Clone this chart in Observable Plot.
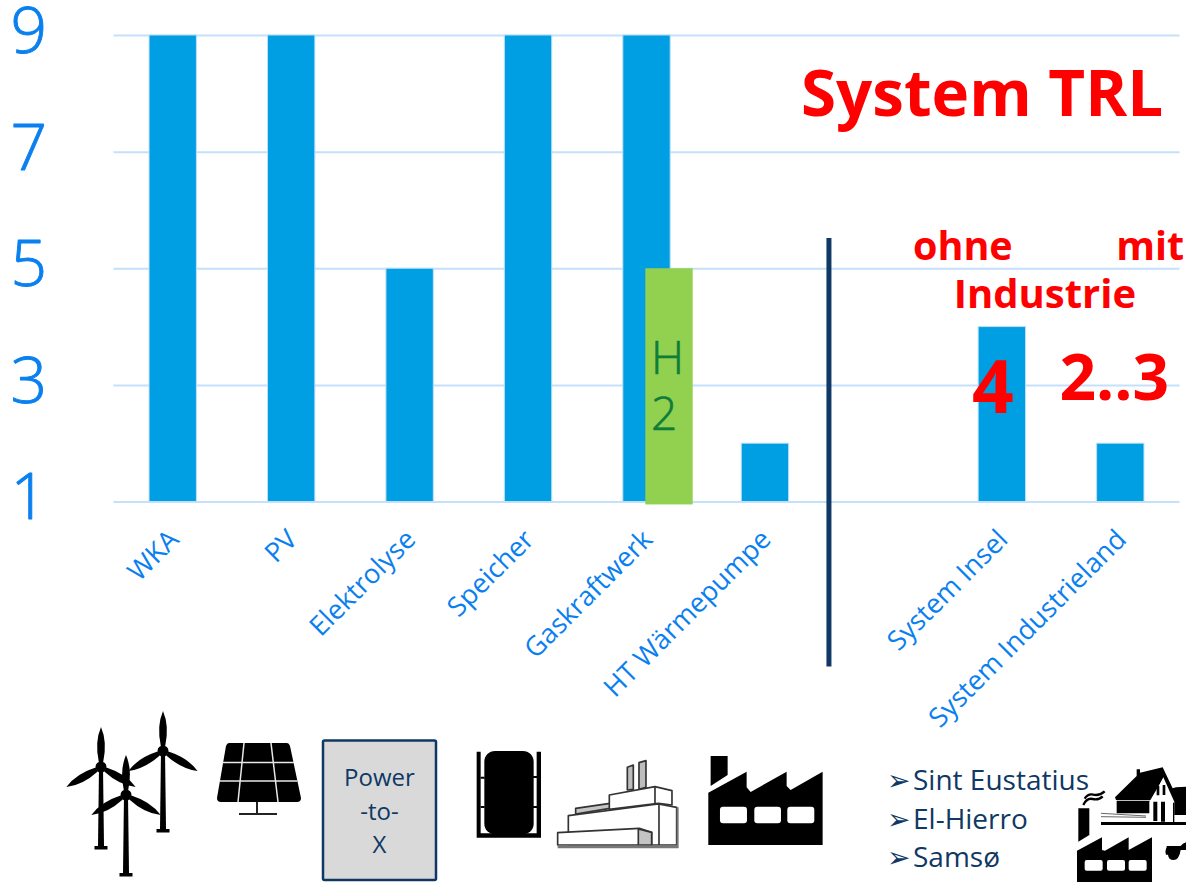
<!DOCTYPE html>
<html lang="de">
<head>
<meta charset="utf-8">
<title>System TRL</title>
<script src="https://cdn.jsdelivr.net/npm/d3@7"></script>
<script src="https://cdn.jsdelivr.net/npm/@observablehq/plot@0.6"></script>
<style>
  html, body { margin: 0; padding: 0; background: #fff; }
  svg { display: block; }
</style>
</head>
<body>
<div id="chart"></div>
<script>
// Technology readiness levels per component and for the whole system
const slots = ["WKA", "PV", "Elektrolyse", "Speicher", "Gaskraftwerk", "HT Wärmepumpe", "", "System Insel", "System Industrieland"];
const technologies = ["WKA", "PV", "Elektrolyse", "Speicher", "Gaskraftwerk", "HT Wärmepumpe", "System Insel", "System Industrieland"];
const trlValues = [9, 9, 5, 9, 9, 2, 4, 2];
const trlTicks = [1, 3, 5, 7, 9];
const hydrogenTrl = 5;
const islands = ["Sint Eustatius", "El-Hierro", "Samsø"];

const bars = technologies.map((name, i) => ({name, trl: trlValues[i]}));
const font = "'Open Sans', sans-serif";
const blue = "#0a80f0";
const red = "#ff0000";
const navy = "#0f3864";

// Pictograms under the axis, each drawn in its own local units
function pictograms() {
  const blade = (hx, hy) => `M${hx},${hy - 40} q6.5,15 2.2,35 h-4.4 q-4.3,-20 2.2,-35z`;
  const turbine = (hx, hy, baseY) => `
    <path d="${blade(hx, hy)}"/>
    <path d="${blade(hx, hy)}" transform="rotate(120 ${hx} ${hy})"/>
    <path d="${blade(hx, hy)}" transform="rotate(240 ${hx} ${hy})"/>
    <circle cx="${hx}" cy="${hy}" r="5.5"/>
    <path d="M${hx - 2},${hy} h4 l1,${baseY - hy - 3} h-6z"/>
    <rect x="${hx - 6.5}" y="${baseY - 3}" width="13" height="3.5"/>`;
  const g = d3.create("svg:g").attr("class", "pictograms");
  g.html(`
    <g fill="#000">${turbine(163, 751, 832)}${turbine(101, 767, 849)}${turbine(126, 795, 876)}</g>

    <path d="M229,743 H287 Q289,743 290,746 L301,798 Q301,802 297,802 H221 Q217,802 217,798 L226,746 Q227,743 229,743z" fill="#000"/>
    <g stroke="#e8e8e8" stroke-width="1.5" fill="none">
      <path d="M222,762.5 H294 M219.5,781 H297.5 M244,743 L238,802 M271,743 L278,802"/>
    </g>
    <path d="M257,802 V814 M239,814 H277" stroke="#222" stroke-width="2" fill="none"/>

    <rect x="323" y="740.5" width="113" height="139.5" rx="1.5" fill="#d9d9d9" stroke="${navy}" stroke-width="2.5"/>
    <g font-family="Open Sans, sans-serif" font-size="24" fill="${navy}" text-anchor="middle">
      <text x="379.5" y="786">Power</text>
      <text x="379.5" y="820">-to-</text>
      <text x="379.5" y="853">X</text>
    </g>

    <g transform="translate(450,700) scale(0.3333)">
      <path d="M80,155 h12 v245 h168 v-245 h13 v258 h-193z" fill="#000"/>
      <rect x="103" y="153" width="148" height="250" rx="32" fill="#000"/>
      <path d="M92,230 h12 v6 h-12z M92,318 h12 v6 h-12z M248,228 h14 v6 h-14z M248,318 h14 v6 h-14z" fill="#000"/>

      <g stroke="#333" stroke-width="5" stroke-linejoin="round">
        <path d="M532,270 V202 L550,195 V268z M567,268 V188 L588,182 V262z" fill="#bdbdbd"/>
        <path d="M377,325 L480,310 V325 L377,342z" fill="#c4c4c4"/>
        <path d="M478,285 L615,260 L666,272 V315 L625,310 L478,328z" fill="#fff"/>
        <path d="M615,260 V310" fill="none"/>
        <path d="M355,347 L625,312 L680,322 V435 H355z" fill="#fff"/>
        <path d="M627,312 V435" fill="none"/>
        <path d="M323,398 L568,385 L605,397 V435 H323z" fill="#fff"/>
        <path d="M565,387 V435 H605 V397z" fill="#c4c4c4"/>
      </g>
      <path d="M323,436 H686 V445 H323z M680,322 h6 V436 h-6z" fill="#777"/>

      <path d="M782,168 H833 V225 L782,258z" fill="#000"/>
      <path d="M775,278 L890,215 V262 L902,276 L1010,215 V258 L1022,270 L1118,215 V435 H775z" fill="#000"/>
      <g fill="#fff">
        <rect x="810" y="320" width="81" height="50" rx="9"/>
        <rect x="913" y="320" width="80" height="50" rx="9"/>
        <rect x="1012" y="320" width="81" height="50" rx="9"/>
      </g>
    </g>

    <g transform="translate(1066,760) scale(0.3333)">
      <path d="M147,112 L212,48 V28 L222,28 V38 L290,22 L320,85 L330,82 L362,80 V165 H325 V125 L292,52 L258,120 H150z" fill="#000"/>
      <path d="M152,122 H258 V160 H152z" fill="#000"/>
      <path d="M250,125 L290,58 L322,128 V188 H250z" fill="#fff"/>
      <path d="M262,125 h12 v58 h-12z M285,125 h12 v60 h-12z M272,78 h8 v28 h-8z M290,75 h8 v30 h-8z M325,128 h-4 v60 h4z" fill="#000"/>
      <path d="M105,160 L240,168 M105,170 L240,172" stroke="#666" stroke-width="3" fill="none"/>
      <path d="M105,186 H362 V195 H105z" fill="#000"/>
      <path d="M37,145 H70 V225 L37,245z" fill="#000"/>
      <path d="M33,272 L108,232 V270 L117,272 L188,232 V270 L258,232 V366 H33z" fill="#000"/>
      <g fill="#fff">
        <rect x="56" y="300" width="54" height="32" rx="6"/>
        <rect x="123" y="300" width="54" height="32" rx="6"/>
        <rect x="188" y="300" width="54" height="32" rx="6"/>
      </g>
      <path d="M52,135 q10,-22 28,-18 q18,4 30,-8 M56,116 q10,-16 26,-12 q18,4 34,-10" stroke="#000" stroke-width="7" fill="none"/>
      <path d="M302,258 h42 q6,-8 18,-12 V270 h-18 q-4,30 -22,30 q-14,0 -16,-16 h-6 q-4,-12 2,-22z" fill="#000"/>
    </g>
  `);
  return g.node();
}

// Reference systems, one bullet per island
const islandMarks = islands.flatMap((name, i) => [
  Plot.text([name], {
    frameAnchor: "top-left", dx: 799, dy: 746 + i * 38.5, textAnchor: "start",
    lineAnchor: "middle", fontSize: 28, fill: navy
  }),
  Plot.text(["➢"], {
    frameAnchor: "top-left", dx: 773, dy: 746 + i * 38.5, textAnchor: "start",
    lineAnchor: "middle", fontSize: 28, fill: navy, fontFamily: "'DejaVu Sans', sans-serif"
  })
]);

const plot = Plot.plot({
  width: 1186,
  height: 882,
  marginLeft: 113.5,
  marginRight: 6.5,
  marginTop: 35,
  marginBottom: 380.5,
  style: {fontFamily: font, background: "#fff", overflow: "visible"},
  x: {type: "band", domain: slots, paddingInner: 0.6, paddingOuter: 0.3, align: 0.5, round: false, label: null},
  y: {type: "linear", domain: [1, 9], label: null},
  marks: [
    Plot.gridY(trlTicks, {stroke: "#c5e0fb", strokeWidth: 2, strokeOpacity: 1}),
    Plot.axisY(trlTicks, {
      anchor: "left", tickSize: 0, tickPadding: 67, fontSize: 64, fontWeight: 300, dy: -3,
      fill: blue, textStroke: blue, textStrokeWidth: 0.9, label: null, tickFormat: d => String(d)
    }),
    Plot.axisX(technologies, {
      anchor: "bottom", tickSize: 0, tickPadding: 33, tickRotate: -45, fontSize: 27, dx: 1,
      fill: blue, label: null
    }),
    Plot.barY(bars, {x: "name", y1: 1, y2: "trl", fill: "#009fe3", stroke: "#bde0f8", strokeWidth: 1, inset: 0}),
    // Hydrogen overlay on the gas power plant
    Plot.rectY([{name: "Gaskraftwerk", low: 0.95, high: hydrogenTrl}], {
      x: "name", y1: "low", y2: "high", fill: "#92d050", dx: 22.5
    }),
    Plot.text(["H\n2"], {
      x: () => "Gaskraftwerk", y: () => 3.03, dx: 4, textAnchor: "start",
      fontSize: 46, lineHeight: 1.22, fill: "#0e7c3a", stroke: "#0e7c3a", strokeWidth: 0.6, fontWeight: 300
    }),
    // Divider between components and whole-system values
    Plot.ruleX(["HT Wärmepumpe"], {y1: 5.52, y2: -1.83, dx: 63.5, stroke: navy, strokeWidth: 5}),
    Plot.text(["System TRL"], {
      frameAnchor: "top-left", dx: 687, dy: 35, textAnchor: "start",
      fontSize: 63.7, fontWeight: 700, fill: red
    }),
    Plot.text(["ohne"], {x: () => "System Insel", y: () => 5.37, dx: -39.5, fontSize: 39.5, fontWeight: 700, fill: red}),
    Plot.text(["mit"], {x: () => "System Industrieland", y: () => 5.37, dx: 29.5, fontSize: 39.5, fontWeight: 700, fill: red}),
    Plot.text(["Industrie"], {x: () => "System Insel", y: () => 4.54, dx: 42.5, fontSize: 40, fontWeight: 700, fill: red}),
    Plot.text(["4"], {x: () => "System Insel", y: () => 2.92, dx: -9.5, fontSize: 73, fontWeight: 700, fill: red}),
    Plot.text(["2..3"], {x: () => "System Industrieland", y: () => 3.1, dx: -6.5, fontSize: 64, fontWeight: 700, fill: red}),
    ...islandMarks,
    pictograms
  ]
});
document.getElementById("chart").append(plot);
</script>
</body>
</html>
